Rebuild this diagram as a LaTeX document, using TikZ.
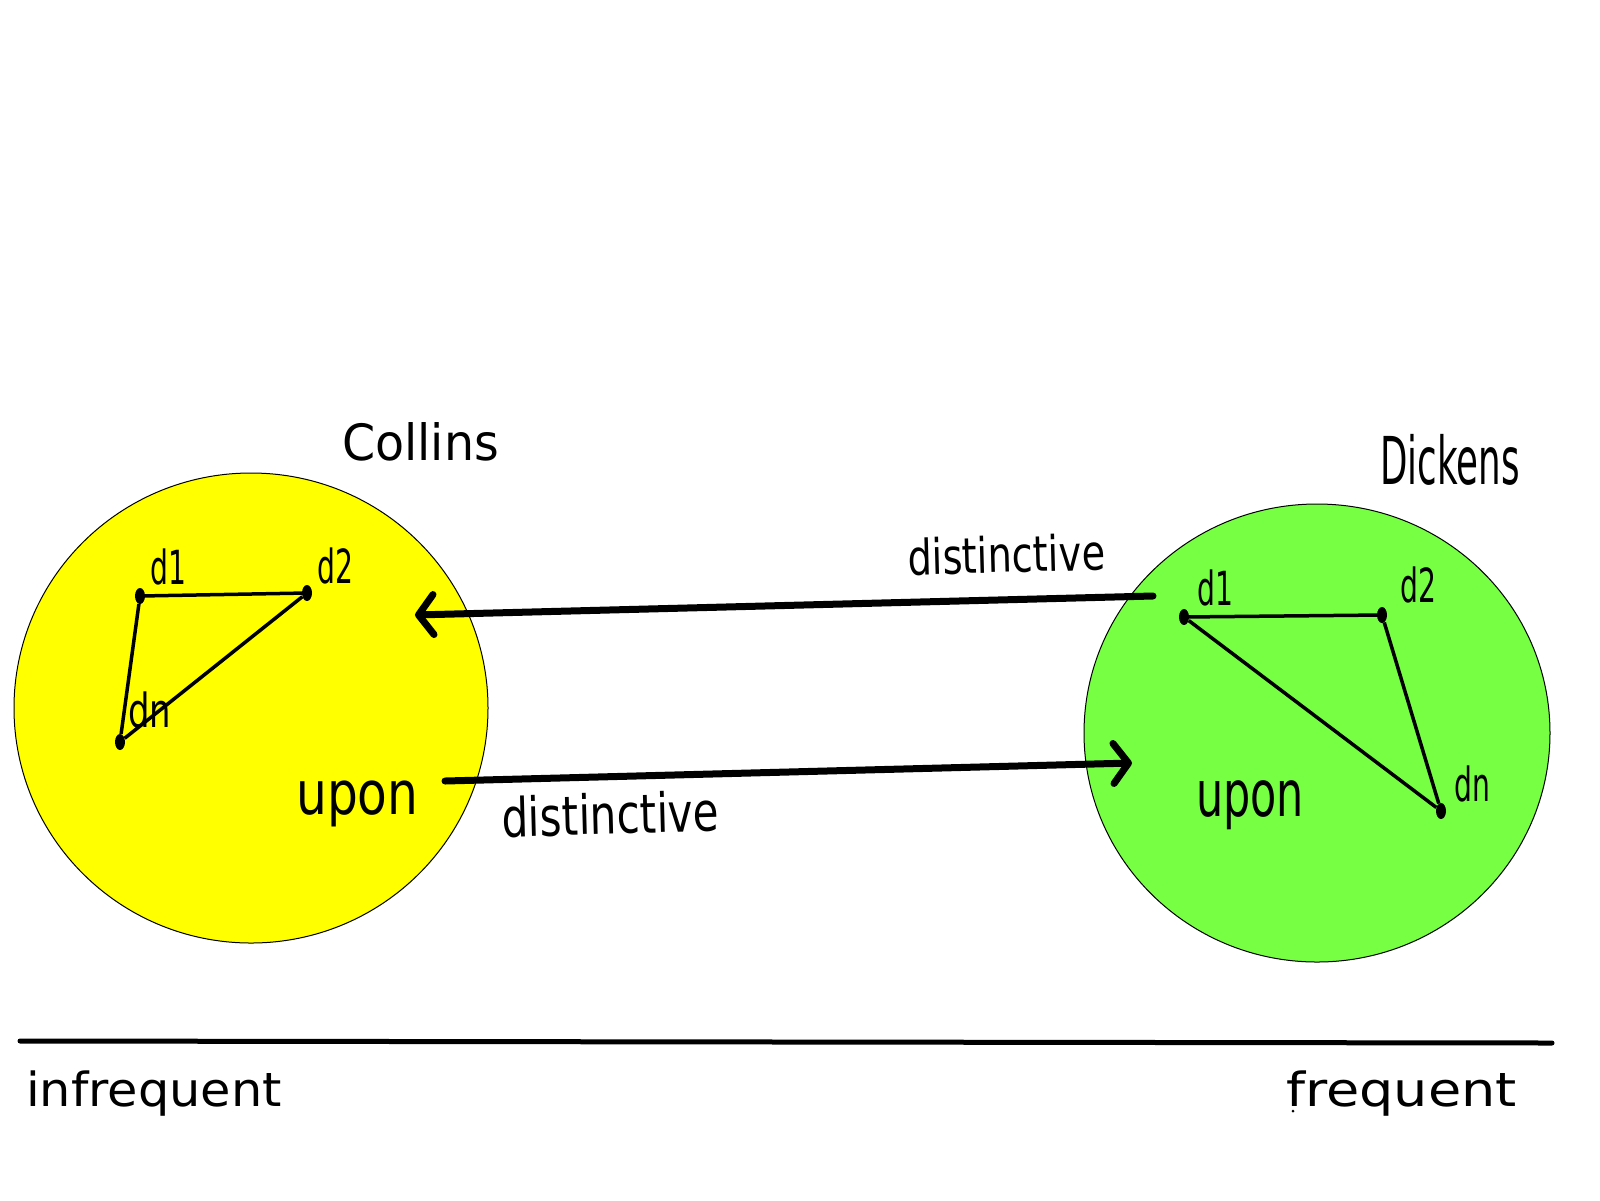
\documentclass[tikz,border=0pt]{standalone}
\usepackage{fontspec}
\setmainfont{DejaVu Sans}
\usepackage{graphicx}
\usetikzlibrary{arrows.meta,shapes.geometric}
\definecolor{collinsyellow}{RGB}{255,255,0}
\definecolor{dickensgreen}{RGB}{119,255,68}
\newcommand{\sz}[1]{\fontsize{#1}{#1}\selectfont}
\newcommand{\narrow}[2]{\scalebox{#1}[1]{#2}}

\begin{document}
\begin{tikzpicture}[x=1pt,y=-1pt,
		corpus/.style={ellipse,draw=black,line width=1pt,inner sep=0pt},
		dot/.style={ellipse,fill=black,inner sep=0pt,minimum width=10pt,minimum height=16pt},
		edge/.style={black,line width=3.5pt},
		flow/.style={-{Straight Barb[length=15pt,width=40pt,round]},line width=7pt,line cap=round},
		lbl/.style={anchor=base west,inner sep=0pt}]
	\useasboundingbox (0,0) rectangle (1600,1200);
	
	% The two corpora.
	\node[corpus,fill=collinsyellow,minimum width=474pt,minimum height=470pt] (collins) at (251,708) {};
	\node[corpus,fill=dickensgreen,minimum width=466pt,minimum height=458pt] (dickens) at (1317,733) {};
	\node[lbl,font=\sz{50}] (collinsname) at (342,460) {\narrow{0.95}{Collins}};
	\node[lbl,font=\sz{66}] (dickensname) at (1380,484) {\narrow{0.54}{Dickens}};
	
	% Distinctive words inside Collins.
	\node[dot] (cd1) at (140,596) {};
	\node[dot] (cd2) at (307,593) {};
	\node[dot] (cdn) at (120,742) {};
	\draw[edge] (cd1) -- (cd2);
	\draw[edge] (cd1) -- (cdn);
	\draw[edge] (cd2) -- (cdn);
	\node[lbl,font=\sz{47}] (cd1name) at (150,584) {\narrow{0.6}{d1}};
	\node[lbl,font=\sz{47}] (cd2name) at (317,583) {\narrow{0.6}{d2}};
	\node[lbl,font=\sz{47}] (cdnname) at (128,727) {\narrow{0.72}{dn}};
	\node[lbl,font=\sz{60}] (cupon) at (296,814) {\narrow{0.81}{upon}};
	
	% Distinctive words inside Dickens.
	\node[dot] (dd1) at (1184,617) {};
	\node[dot] (dd2) at (1382,615) {};
	\node[dot] (ddn) at (1441,811) {};
	\draw[edge] (dd1) -- (dd2);
	\draw[edge] (dd1) -- (ddn);
	\draw[edge] (dd2) -- (ddn);
	\node[lbl,font=\sz{47}] (dd1name) at (1197,605) {\narrow{0.6}{d1}};
	\node[lbl,font=\sz{47}] (dd2name) at (1400,602) {\narrow{0.6}{d2}};
	\node[lbl,font=\sz{47}] (ddnname) at (1454,801) {\narrow{0.6}{dn}};
	\node[lbl,font=\sz{64}] (dupon) at (1196,816) {\narrow{0.67}{upon}};
	
	% Comparisons in both directions.
	\coordinate (dickensout) at (1153,596);
	\coordinate (collinsin) at (415,615);
	\coordinate (collinsout) at (445,781);
	\coordinate (dickensin) at (1132,763);
	\draw[flow] (dickensout) -- (collinsin);
	\draw[flow] (collinsout) -- (dickensin);
	\node[lbl,font=\sz{49},rotate=1.5] (upperword) at (908,575) {\narrow{0.78}{distinctive}};
	\node[lbl,font=\sz{54},rotate=1.5] (lowerword) at (502,837) {\narrow{0.78}{distinctive}};
	
	% Frequency scale.
	\coordinate (lowend) at (20,1041);
	\coordinate (highend) at (1552,1043);
	\draw[line width=5pt,line cap=round] (lowend) -- (highend);
	\node[lbl,font=\sz{47}] (infreq) at (26,1106) {\narrow{1.05}{infrequent}};
	\node[lbl,font=\sz{47}] (freq) at (1286,1106) {\narrow{1.15}{frequent}};
	\fill (1293,1111) circle (1.5pt);
\end{tikzpicture}
\end{document}
